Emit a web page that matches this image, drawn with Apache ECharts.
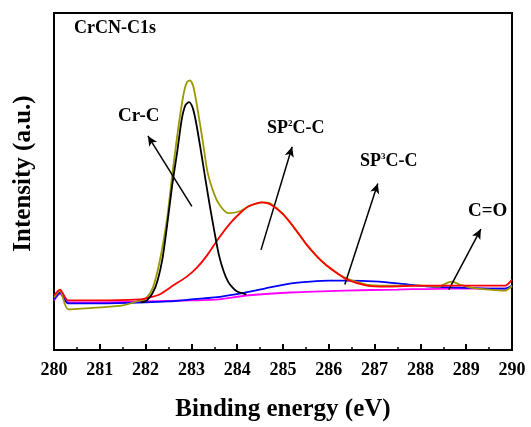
<!DOCTYPE html>
<html>
<head>
<meta charset="utf-8">
<style>
  html, body { margin: 0; padding: 0; background: #fff; }
  #main { width: 531px; height: 427px; }
</style>
<script src="https://cdn.jsdelivr.net/npm/echarts@6/dist/echarts.min.js"></script>
</head>
<body>
<div id="main"></div>
<script>
  // binding energy (eV) / intensity (a.u.) pairs
  var crC = [
    [281.9, 48], [282.03, 50], [282.21, 63], [282.36, 90], [282.47, 126],
    [282.58, 166], [282.69, 200], [282.79, 233], [282.87, 247], [282.95, 250],
    [283.03, 244], [283.1, 230], [283.2, 203], [283.3, 174], [283.4, 146],
    [283.5, 120], [283.6, 96], [283.7, 80], [283.8, 69], [283.9, 63],
    [284.0, 59], [284.2, 56]
  ];
  var sp2 = [
    [280.0, 55], [280.13, 61], [280.31, 50], [281.0, 50], [281.88, 51],
    [282.0, 52], [282.3, 56], [282.6, 65], [282.9, 74], [283.12, 83],
    [283.35, 96], [283.6, 113], [283.85, 128], [284.06, 138], [284.25, 145],
    [284.43, 148], [284.54, 149], [284.72, 147], [285.0, 137], [285.25, 123],
    [285.52, 106], [285.75, 94], [285.96, 85], [286.2, 77], [286.4, 71],
    [286.83, 65], [287.27, 64], [288.0, 65], [289.0, 65], [289.85, 65],
    [290.0, 71]
  ];
  var sp3 = [
    [280.0, 51], [280.13, 58], [280.31, 47], [281.0, 47], [282.0, 48],
    [282.5, 49], [283.0, 51], [283.5, 53], [284.17, 58], [284.6, 62],
    [285.15, 67], [285.6, 69], [286.0, 70], [286.35, 70], [287.1, 69],
    [287.55, 67], [288.2, 64], [288.86, 63], [289.5, 62], [289.85, 62],
    [290.0, 65]
  ];
  var cO = [
    [280.0, 50], [280.13, 57], [280.31, 48], [281.0, 48], [282.0, 49],
    [283.0, 50], [283.6, 51], [284.2, 55], [285.15, 58], [286.35, 60],
    [287.5, 61], [288.7, 62], [289.85, 62], [290.0, 64]
  ];
  var envelope = [
    [280.0, 53], [280.13, 60], [280.31, 41], [281.0, 43], [281.5, 45],
    [281.88, 50], [281.99, 51], [282.16, 63], [282.31, 90], [282.47, 133],
    [282.58, 176], [282.69, 216], [282.82, 256], [282.9, 270], [282.97, 272],
    [283.04, 266], [283.12, 247], [283.25, 210], [283.35, 180], [283.5, 157],
    [283.62, 146], [283.8, 138], [284.06, 140], [284.25, 145], [284.43, 148],
    [284.54, 149], [284.72, 148], [285.0, 137], [285.25, 123], [285.52, 106],
    [285.75, 94], [285.96, 85], [286.2, 77], [286.4, 72], [286.83, 66],
    [287.27, 65], [287.6, 65], [288.0, 65], [288.4, 64], [288.6, 68],
    [288.69, 69], [288.86, 66], [289.1, 63], [289.5, 61], [289.85, 60],
    [290.0, 65]
  ];
  var xTicks = [280, 281, 282, 283, 284, 285, 286, 287, 288, 289, 290];

  // annotation arrows: [tail, head]
  var arrows = [
    [[283.01, 145], [282.05, 216]],
    [[284.52, 101], [285.2, 205]],
    [[286.35, 66], [287.07, 168]],
    [[288.62, 61], [289.32, 122]]
  ];

  var serif = '"Liberation Serif", "Times New Roman", serif';

  function lineSeries(name, data, color, z) {
    return {
      name: name,
      type: 'line',
      data: data,
      showSymbol: false,
      smooth: 0.25,
      z: z,
      lineStyle: { color: color, width: 1.8 },
      itemStyle: { color: color }
    };
  }

  var myChart = echarts.init(document.getElementById('main'));
  var series = [
    lineSeries('C=O', cO, '#ff00ff', 2),
    lineSeries('SP3C-C', sp3, '#0000ff', 3),
    lineSeries('envelope', envelope, '#9a9a00', 4),
    lineSeries('SP2C-C', sp2, '#ff0000', 5),
    lineSeries('Cr-C', crC, '#000000', 6)
  ];
  series[4].markLine = {
    silent: true,
    symbol: ['none', 'arrow'],
    symbolSize: [7, 10],
    label: { show: false },
    lineStyle: { color: '#000', width: 1.5, type: 'solid' },
    data: arrows.map(function (a) {
      return [{ coord: a[0] }, { coord: a[1] }];
    })
  };

  var rich = {
    b: { fontFamily: serif, fontWeight: 'bold', fontSize: 18, color: '#000' },
    s: { fontFamily: serif, fontWeight: 'bold', fontSize: 9, color: '#000', verticalAlign: 'top', padding: [0, 0, 10, 0] }
  };

  myChart.setOption({
    animation: false,
    grid: {
      left: 54, right: 19, top: 13, bottom: 74,
      show: true, borderColor: '#000', borderWidth: 2
    },
    xAxis: {
      type: 'value',
      min: xTicks[0],
      max: xTicks[xTicks.length - 1],
      interval: 1,
      axisLine: { lineStyle: { color: '#000', width: 2 } },
      axisTick: { inside: true, length: 6, lineStyle: { color: '#000', width: 2 } },
      minorTick: { show: true, splitNumber: 2, length: 3, lineStyle: { color: '#000', width: 1.5 } },
      splitLine: { show: false },
      axisLabel: {
        margin: 11, color: '#000', fontFamily: serif, fontWeight: 'bold', fontSize: 18
      },
      name: 'Binding energy (eV)',
      nameLocation: 'middle',
      nameGap: 47,
      nameTextStyle: { color: '#000', fontFamily: serif, fontWeight: 'bold', fontSize: 25 }
    },
    yAxis: {
      type: 'value',
      min: 0,
      max: 340,
      axisLine: { show: true, lineStyle: { color: '#000', width: 2 } },
      axisTick: { show: false },
      axisLabel: { show: false },
      splitLine: { show: false },
      name: 'Intensity (a.u.)',
      nameLocation: 'middle',
      nameGap: 18,
      nameTextStyle: { color: '#000', fontFamily: serif, fontWeight: 'bold', fontSize: 25, padding: [0, 0, 0, 16] }
    },
    graphic: [
      { type: 'text', left: 74, top: 19, style: { text: 'CrCN-C1s', font: 'bold 18px ' + serif, fill: '#000' } },
      { type: 'text', left: 118, top: 107, style: { text: 'Cr-C', font: 'bold 19px ' + serif, fill: '#000' } },
      { type: 'text', left: 267, top: 119, style: { text: '{b|SP}{s|2}{b|C-C}', rich: rich } },
      { type: 'text', left: 360, top: 152, style: { text: '{b|SP}{s|3}{b|C-C}', rich: rich } },
      { type: 'text', left: 468, top: 202, style: { text: 'C=O', font: 'bold 19px ' + serif, fill: '#000' } }
    ],
    series: series
  });
</script>
</body>
</html>
